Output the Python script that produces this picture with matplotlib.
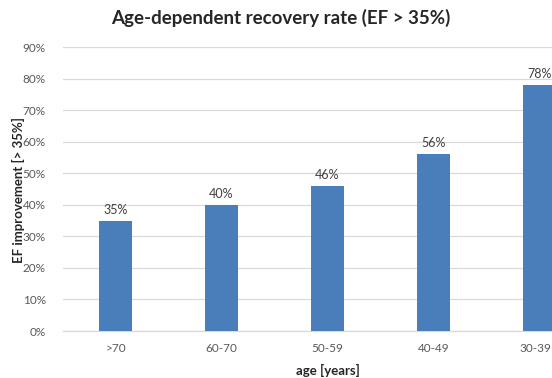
import matplotlib
matplotlib.use("Agg")
import matplotlib.pyplot as plt
import matplotlib.transforms as mtransforms
from matplotlib.ticker import FuncFormatter, MultipleLocator

# Recovery rate by age group
age_groups = [">70", "60-70", "50-59", "40-49", "30-39"]
ef_improvement = [35, 40, 46, 56, 78]
value_labels = ["35%", "40%", "46%", "56%", "78%"]

plt.rcParams["font.family"] = ["Lato", "DejaVu Sans"]

fig = plt.figure(figsize=(5.52, 3.78), dpi=100)
# plot area spans a little past the right edge of the canvas
ax = fig.add_axes([62.5 / 552, 47 / 378, 530 / 552, 284 / 378])

bar_color = "#4a7ebb"
x = range(len(age_groups))
bars = ax.bar(x, ef_improvement, width=0.31, color=bar_color, zorder=3)

for xi, v, lab in zip(x, ef_improvement, value_labels):
    ax.text(xi, v + 1.6, lab, ha="center", va="bottom", fontsize=9, color="#404040")

ax.set_xlim(-0.5, 4.5)
ax.set_ylim(0, 90)
ax.yaxis.set_major_locator(MultipleLocator(10))
ax.yaxis.set_major_formatter(FuncFormatter(lambda v, p: f"{int(round(v))}%"))
ax.set_xticks(list(x))
ax.set_xticklabels(age_groups)

ax.grid(axis="y", color="#d9d9d9", linewidth=0.9, zorder=0)
for s in ["top", "right", "left"]:
    ax.spines[s].set_visible(False)
ax.spines["bottom"].set_color("#d9d9d9")
ax.spines["bottom"].set_linewidth(0.9)
ax.tick_params(axis="both", length=0, labelsize=8.5, colors="#595959")
ax.tick_params(axis="y", pad=12)
ax.tick_params(axis="x", pad=9)

# keep the last category label inside the canvas
last = ax.get_xticklabels()[-1]
last.set_transform(last.get_transform() + mtransforms.ScaledTranslation(-4 / 100, 0, fig.dpi_scale_trans))

ax.set_xlabel("age [years]", fontsize=9.5, fontweight="bold", color="#262626", labelpad=7)
fig.text(18 / 552, 1 - 190 / 378, "EF improvement [> 35%]", rotation=90, ha="center",
         va="center", fontsize=9.5, fontweight="bold", color="#262626")
fig.text(281 / 552, 1 - 18 / 378, "Age-dependent recovery rate (EF > 35%)", ha="center",
         va="center", fontsize=13.5, fontweight="bold", color="#262626")

fig.savefig("out.png", dpi=100)
